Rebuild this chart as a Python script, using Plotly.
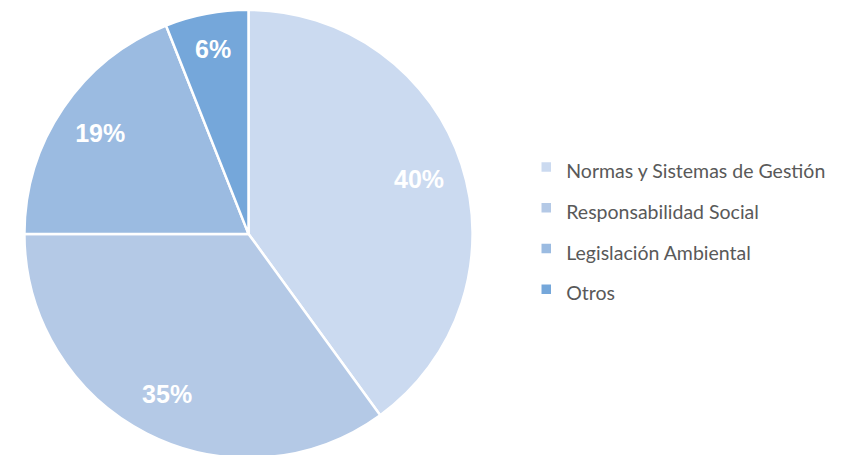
import plotly.graph_objects as go

labels = ["Normas y Sistemas de Gestión", "Responsabilidad Social", "Legislación Ambiental", "Otros"]
values = [40, 35, 19, 6]
colors = ["#CBDAF0", "#B4C9E6", "#9BBBE1", "#75A7DA"]

dom = dict(x=[16/851, 465/851], y=[5/455, 0.985 + 5/455])

fig = go.Figure()
fig.add_trace(go.Pie(
    labels=["<span style='font-size:19.5px'>" + l + "</span>" for l in labels],
    values=values,
    sort=False,
    direction="clockwise",
    rotation=0,
    marker=dict(colors=colors, line=dict(color="white", width=2.5)),
    textinfo="none",
    hoverinfo="label+percent",
    domain=dom,
))
# transparent ring carrying the percentage labels at ~0.8 of the radius
fig.add_trace(go.Pie(
    labels=labels,
    values=values,
    sort=False,
    direction="clockwise",
    rotation=0,
    hole=0.6,
    marker=dict(colors=["rgba(0,0,0,0)"] * len(values), line=dict(width=0)),
    texttemplate="%{percent:.0%}",
    textposition="inside",
    insidetextorientation="horizontal",
    textfont=dict(family="Liberation Sans", size=25, color="white", weight="bold"),
    hoverinfo="skip",
    showlegend=False,
    domain=dom,
))

fig.update_layout(
    width=851, height=455,
    margin=dict(l=0, r=0, t=0, b=0),
    paper_bgcolor="white",
    plot_bgcolor="white",
    showlegend=True,
    legend=dict(
        x=0.609, y=0.516, xanchor="left", yanchor="middle",
        font=dict(family="Lato", size=29, color="#595959"),
        itemclick=False,
    ),
)

fig.write_html("out.html")
